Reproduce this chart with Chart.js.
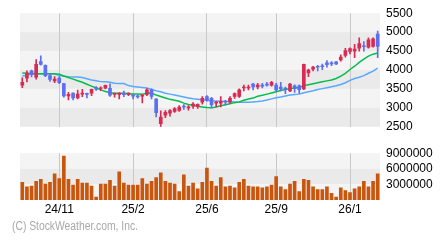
<!DOCTYPE html>
<html>
<head>
<meta charset="utf-8">
<script src="https://cdn.jsdelivr.net/npm/chart.js@4.4.1/dist/chart.umd.min.js"></script>
<style>
  html, body { margin: 0; padding: 0; background: #fff; }
  #wrap { position: relative; width: 440px; height: 240px; overflow: hidden; }
  #priceBox { position: absolute; left: 0; top: 0; width: 440px; height: 140px; }
  #volBox { position: absolute; left: 0; top: 140px; width: 440px; height: 80px; }
  .copy { position: absolute; left: 12px; top: 219px; font: 12px 'Liberation Sans', Arial, sans-serif; color: #a8a8a8;
          white-space: nowrap; transform: scaleX(0.86); transform-origin: 0 0; }
</style>
</head>
<body>
<div id="wrap">
  <div id="priceBox"><canvas id="priceChart" width="440" height="140"></canvas></div>
  <div id="volBox"><canvas id="volChart" width="440" height="80"></canvas></div>
  <div class="copy">(C) StockWeather.com, Inc.</div>
</div>
<script>
// weekly candles, oldest first
const openP = [3600,3783,3975,3808,4225,4125,3850,3713,3788,3643,3313,3388,3263,3363,3383,3388,3538,3513,3518,3518,
  3358,3358,3393,3358,3343,3318,3308,3358,3475,3233,2583,2808,2858,2908,2933,3050,3000,3043,3033,3150,
  3300,3250,3125,3125,3175,3150,3300,3300,3525,3525,3625,3550,3600,3625,3600,3600,3550,3525,3450,3583,
  3583,3500,3925,4025,4100,4113,4188,4188,4213,4263,4388,4488,4500,4575,4638,4600,4625,4950];
const highP = [3793,3975,4000,4275,4375,4138,3900,3825,3825,3650,3413,3400,3468,3488,3388,3493,3563,3555,3600,3638,
  3388,3395,3443,3395,3345,3338,3358,3508,3500,3243,2925,2930,2958,3008,3058,3088,3063,3138,3108,3300,
  3325,3275,3175,3300,3200,3300,3400,3500,3600,3600,3650,3650,3650,3675,3700,3650,3675,3550,3650,3608,
  3608,4158,4025,4100,4125,4158,4250,4225,4225,4400,4575,4588,4675,4850,4750,4850,4850,5025];
const lowP = [3533,3683,3818,3758,4125,3825,3700,3663,3638,3283,3208,3213,3238,3293,3263,3325,3463,3455,3500,3300,
  3283,3233,3293,3325,3233,3258,3133,3325,3233,2763,2500,2738,2783,2883,2908,2958,2938,2988,2988,3100,
  3175,3000,3025,3025,3075,3125,3250,3275,3450,3475,3475,3500,3525,3575,3575,3450,3450,3375,3425,3408,
  3383,3483,3825,3975,3975,4008,4075,4113,4138,4233,4338,4425,4325,4500,4500,4575,4600,4325];
const closeP = [3675,3918,3875,4150,4150,3850,3750,3763,3663,3318,3358,3263,3363,3388,3358,3488,3493,3530,3593,3338,
  3383,3393,3350,3393,3308,3288,3333,3475,3300,2875,2758,2880,2930,2980,3018,3025,3030,3100,3093,3250,
  3200,3075,3150,3175,3150,3250,3375,3475,3550,3550,3550,3600,3575,3600,3675,3475,3500,3500,3625,3508,
  3483,4150,4000,4075,4075,4088,4138,4163,4158,4338,4513,4563,4550,4700,4613,4800,4825,4625];
// moving averages (short = green, long = blue)
const maShort = [3918,3913,3908,3900,3900,3900,3900,3900,3888,3843,3800,3758,3718,3675,3625,3575,3525,3475,3433,3400,
  3383,3383,3383,3375,3368,3363,3358,3388,3393,3338,3300,3263,3225,3200,3175,3125,3088,3068,3043,3025,
  3008,3000,3025,3058,3083,3108,3138,3158,3200,3233,3258,3308,3333,3363,3393,3425,3458,3483,3508,3525,
  3538,3588,3613,3638,3663,3688,3713,3738,3775,3838,3913,4013,4100,4200,4288,4368,4418,4450];
const maLong = [3843,3863,3900,3900,3900,3900,3900,3893,3863,3838,3825,3818,3818,3800,3768,3738,3718,3693,3688,3675,
  3650,3643,3643,3588,3563,3550,3538,3525,3488,3450,3425,3388,3363,3338,3313,3288,3263,3238,3225,3213,
  3200,3188,3183,3175,3175,3168,3158,3150,3150,3150,3158,3168,3183,3208,3238,3268,3288,3313,3338,3350,
  3363,3400,3425,3450,3483,3508,3533,3558,3583,3618,3663,3725,3775,3808,3850,3913,3968,4050];
const volume = [3420000,2520000,2700000,3600000,3960000,3060000,3420000,5040000,4140000,8460000,3960000,2880000,3960000,
  3240000,3240000,2700000,540000,3060000,3060000,3780000,2700000,5400000,3240000,2880000,2880000,2880000,
  4140000,3060000,3600000,4320000,5220000,3600000,3240000,3060000,1620000,4860000,2700000,3240000,2160000,
  3420000,6120000,3600000,2700000,4320000,2520000,2700000,2340000,3420000,3960000,2700000,2520000,2520000,
  2340000,2520000,2880000,4500000,2520000,1980000,3060000,3600000,1620000,3960000,3780000,2520000,1980000,
  1980000,2520000,1260000,540000,2340000,1800000,1440000,2160000,2520000,3600000,2520000,3600000,5040000];
const tickIdx = [8, 24, 40, 55, 71];
const tickText = ['24/11', '25/2', '25/6', '25/9', '26/1'];
const priceTicks = [2500, 5500, 500];
const volTicks = [0, 9000000, 3000000];

const UP = '#d82a52';
const DOWN = '#5b6ff2';
const MA_S = '#00bf4c';
const MA_L = '#58a8ff';
const VOL = '#c8560f';
const GRID = '#c8c8c8';
const BAND_LIGHT = '#f4f4f4';
const BAND_DARK = '#eaeaea';
const FONT = "'Liberation Sans', Arial, sans-serif";

const labels = openP.map((_, i) => {
    const k = tickIdx.indexOf(i);
    return k >= 0 ? tickText[k] : '';
});
const candleColor = (c) => closeP[c.dataIndex] >= openP[c.dataIndex] ? UP : DOWN;
const gridColor = (c) => tickIdx.includes(c.index) ? GRID : 'rgba(0,0,0,0)';

// alternating grey bands between y ticks
const bandPlugin = {
    id: 'bands',
    beforeDraw(chart) {
        const { ctx, chartArea: a, scales: { y } } = chart;
        const vals = y.ticks.map(t => t.value).sort((p, q) => q - p);
        ctx.save();
        for (let k = 0; k < vals.length - 1; k++) {
            const y0 = y.getPixelForValue(vals[k]);
            const y1 = y.getPixelForValue(vals[k + 1]);
            ctx.fillStyle = k % 2 ? BAND_DARK : BAND_LIGHT;
            ctx.fillRect(a.left, y0, a.right - a.left, y1 - y0);
        }
        ctx.restore();
    }
};

const tickFont = { family: FONT, size: 12 };

new Chart(document.getElementById('priceChart'), {
    type: 'bar',
    data: {
        labels,
        datasets: [
            { type: 'line', data: maLong, borderColor: MA_L, borderWidth: 1.5, pointRadius: 0, tension: 0, order: 4 },
            { type: 'line', data: maShort, borderColor: MA_S, borderWidth: 1.5, pointRadius: 0, tension: 0, order: 3 },
            { data: lowP.map((l, i) => [l, highP[i]]), backgroundColor: candleColor, barThickness: 1, grouped: false, order: 2 },
            { data: openP.map((o, i) => [o, closeP[i]]), backgroundColor: candleColor, barThickness: 3, grouped: false, order: 1 }
        ]
    },
    options: {
        responsive: false,
        animation: false,
        devicePixelRatio: 1,
        layout: { padding: { left: 20, top: 10, bottom: 10, right: 0 } },
        plugins: { legend: { display: false }, tooltip: { enabled: false } },
        scales: {
            x: {
                ticks: { display: false, autoSkip: false },
                grid: { color: gridColor, offset: false, drawTicks: false, lineWidth: 1 },
                border: { display: false }
            },
            y: {
                position: 'right',
                min: priceTicks[0], max: priceTicks[1],
                ticks: { stepSize: priceTicks[2], autoSkip: false, color: '#000', font: tickFont, padding: 6, callback: v => String(v) },
                grid: { display: false, drawTicks: false },
                border: { display: false },
                afterFit: (s) => { s.width = 60; }
            }
        }
    },
    plugins: [bandPlugin]
});

new Chart(document.getElementById('volChart'), {
    type: 'bar',
    data: {
        labels,
        datasets: [{ data: volume, backgroundColor: VOL, barThickness: 3 }]
    },
    options: {
        responsive: false,
        animation: false,
        devicePixelRatio: 1,
        layout: { padding: { left: 20, top: 10, bottom: 0, right: 0 } },
        plugins: { legend: { display: false }, tooltip: { enabled: false } },
        scales: {
            x: {
                ticks: { autoSkip: false, maxRotation: 0, color: '#000', font: tickFont, padding: 2 },
                grid: { color: gridColor, offset: false, drawTicks: false, lineWidth: 1 },
                border: { display: false },
                afterFit: (s) => { s.height = 20; }
            },
            y: {
                position: 'right',
                min: volTicks[0], max: volTicks[1],
                ticks: { stepSize: volTicks[2], autoSkip: false, color: '#000', font: tickFont, padding: 6, callback: v => v === 0 ? '' : String(v) },
                grid: { display: false, drawTicks: false },
                border: { display: false },
                afterFit: (s) => { s.width = 60; }
            }
        }
    },
    plugins: [bandPlugin]
});
</script>
</body>
</html>
